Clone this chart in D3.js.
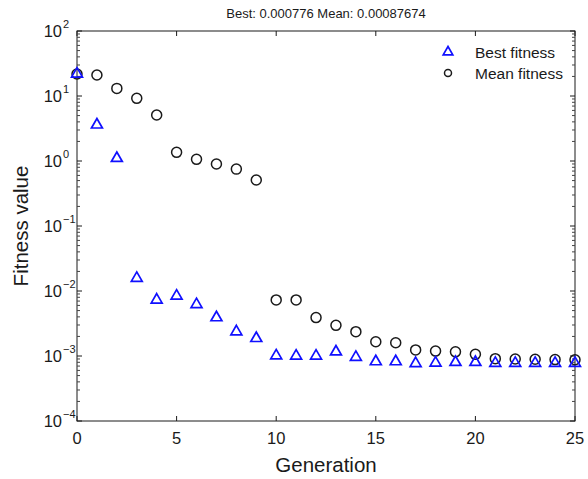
<!doctype html>
<html lang="en">
<head>
    <meta charset="utf-8">
    <script src="https://d3js.org/d3.v7.min.js"></script>
    <title>Fitness</title>
    <style>
        body { margin: 0; background: #fff; }
        text { font-family: "Liberation Sans", Arial, Helvetica, sans-serif; fill: #1a1a1a; }
    </style>
</head>
<body>
    <div id="chart"></div>

    <script>
        // datos
        var generations = d3.range(0, 26);
        var bestFitness = [21.8, 3.6, 1.1, 0.0157, 0.0073, 0.0084, 0.0062, 0.0039, 0.00237, 0.00187,
            0.00101, 0.001, 0.001, 0.00116, 0.00096, 0.00082, 0.00082, 0.00077, 0.00078, 0.0008,
            0.0008, 0.000776, 0.000776, 0.000776, 0.000776, 0.000776];
        var meanFitness = [21.8, 21, 13.1, 9.2, 5.1, 1.36, 1.06, 0.9, 0.75, 0.51,
            0.0073, 0.0073, 0.0039, 0.00296, 0.00237, 0.00166, 0.0016, 0.00124, 0.00119, 0.00116,
            0.00106, 0.00091, 0.0009, 0.00089, 0.00088, 0.00087674];
        var xTicks = [0, 5, 10, 15, 20, 25];
        var yTicks = [-4, -3, -2, -1, 0, 1, 2]; // exponentes
        var legendLabels = ["Best fitness", "Mean fitness"];
        var title = "Best: 0.000776 Mean: 0.00087674";

        var width = 588, height = 479;
        // ojo: "top" choca con window.top
        var pLeft = 77, pRight = 575, pTop = 31, pBottom = 421;

        var svg = d3.select("#chart").append("svg")
            .attr("width", width)
            .attr("height", height);

        var x = d3.scaleLinear().domain([0, 25]).range([pLeft, pRight]);
        var y = d3.scaleLog().domain([1e-4, 1e2]).range([pBottom, pTop]);

        // caja
        svg.append("rect")
            .attr("x", pLeft).attr("y", pTop)
            .attr("width", pRight - pLeft).attr("height", pBottom - pTop)
            .attr("fill", "none").attr("stroke", "#1a1a1a").attr("stroke-width", 1);

        // ticks de x (adentro, arriba y abajo)
        var gx = svg.append("g");
        xTicks.forEach(function (t) {
            gx.append("line").attr("x1", x(t)).attr("x2", x(t)).attr("y1", pBottom).attr("y2", pBottom - 5).attr("stroke", "#1a1a1a");
            gx.append("line").attr("x1", x(t)).attr("x2", x(t)).attr("y1", pTop).attr("y2", pTop + 5).attr("stroke", "#1a1a1a");
            gx.append("text")
                .attr("x", x(t)).attr("y", 444)
                .attr("text-anchor", "middle")
                .style("font-size", "16.5px")
                .text(t);
        });

        // ticks de y con menores
        var gy = svg.append("g");
        yTicks.forEach(function (e) {
            var v = Math.pow(10, e);
            gy.append("line").attr("x1", pLeft).attr("x2", pLeft + 5).attr("y1", y(v)).attr("y2", y(v)).attr("stroke", "#1a1a1a");
            gy.append("line").attr("x1", pRight).attr("x2", pRight - 5).attr("y1", y(v)).attr("y2", y(v)).attr("stroke", "#1a1a1a");
            gy.append("text")
                .attr("x", 62).attr("y", y(v) + 6)
                .attr("text-anchor", "end")
                .style("font-size", "16.5px")
                .text("10");
            gy.append("text")
                .attr("x", 63).attr("y", y(v) - 3)
                .style("font-size", "11px")
                .text(e < 0 ? "\u2212" + (-e) : e);
            if (e < 2) {
                for (var k = 2; k < 10; k++) {
                    var m = k * v;
                    gy.append("line").attr("x1", pLeft).attr("x2", pLeft + 3).attr("y1", y(m)).attr("y2", y(m)).attr("stroke", "#444");
                    gy.append("line").attr("x1", pRight).attr("x2", pRight - 3).attr("y1", y(m)).attr("y2", y(m)).attr("stroke", "#444");
                }
            }
        });

        var tri = d3.symbol().type(d3.symbolTriangle).size(52);

        // mean fitness (circulos)
        svg.append("g")
            .selectAll("circle")
            .data(meanFitness)
            .enter()
            .append("circle")
            .attr("cx", function (d, i) { return x(generations[i]); })
            .attr("cy", function (d) { return y(d); })
            .attr("r", 5)
            .attr("fill", "none")
            .attr("stroke", "#1a1a1a")
            .attr("stroke-width", 1.5);

        // best fitness (triangulos)
        svg.append("g")
            .selectAll("path")
            .data(bestFitness)
            .enter()
            .append("path")
            .attr("d", tri)
            .attr("transform", function (d, i) { return "translate(" + x(generations[i]) + "," + y(d) + ")"; })
            .attr("fill", "none")
            .attr("stroke", "#1010ff")
            .attr("stroke-width", 1.7);

        // titulos
        svg.append("text")
            .attr("x", (pLeft + pRight) / 2).attr("y", 18)
            .attr("text-anchor", "middle")
            .style("font-size", "13px")
            .text(title);

        svg.append("text")
            .attr("x", (pLeft + pRight) / 2).attr("y", 472)
            .attr("text-anchor", "middle")
            .style("font-size", "20.5px")
            .text("Generation");

        svg.append("text")
            .attr("transform", "translate(28," + ((pTop + pBottom) / 2) + ") rotate(-90)")
            .attr("text-anchor", "middle")
            .style("font-size", "20.5px")
            .text("Fitness value");

        // leyenda
        var lg = svg.append("g");
        lg.append("path")
            .attr("d", d3.symbol().type(d3.symbolTriangle).size(40))
            .attr("transform", "translate(448,52)")
            .attr("fill", "none").attr("stroke", "#1010ff").attr("stroke-width", 1.7);
        lg.append("circle")
            .attr("cx", 448).attr("cy", 73).attr("r", 3.5)
            .attr("fill", "none").attr("stroke", "#1a1a1a").attr("stroke-width", 1.5);
        legendLabels.forEach(function (l, i) {
            lg.append("text")
                .attr("x", 475).attr("y", 57.5 + i * 21)
                .style("font-size", "15.5px")
                .text(l);
        });
    </script>
</body>
</html>
